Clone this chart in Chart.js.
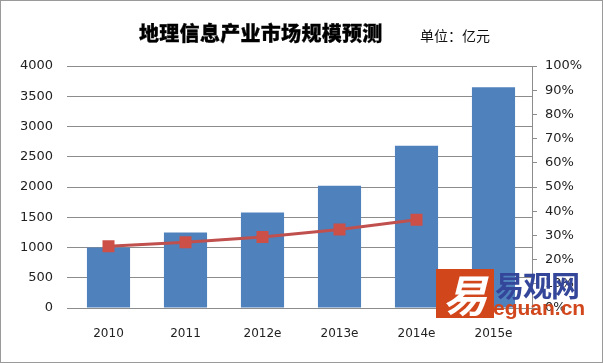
<!DOCTYPE html>
<html>
<head>
<meta charset="utf-8">
<script src="https://cdn.jsdelivr.net/npm/chart.js@4/dist/chart.umd.min.js"></script>
<style>
  html, body { margin: 0; padding: 0; background: #fff; }
  #wrap { position: relative; width: 603px; height: 363px; box-sizing: border-box; border: 1px solid #9a9a9a; overflow: hidden; }
  canvas { position: absolute; left: 0; top: 0; }
  #title { position: absolute; left: 138px; top: 17px; width: 250px; font: 900 20px "Noto Sans CJK SC", sans-serif; color: #000; white-space: nowrap; letter-spacing: 0.3px; -webkit-text-stroke: 0.3px #000; }
  #unit { position: absolute; left: 419px; top: 24px; font: 14px "Noto Sans CJK SC", sans-serif; color: #111; white-space: nowrap; }
  #logoBox { position: absolute; left: 435px; top: 268px; width: 58px; height: 49px; background: #d2461c; color: #fff; font: bold 44px "Noto Sans CJK SC", sans-serif; line-height: 49px; text-align: center; font-style: italic; }
  #logoCn { position: absolute; left: 494px; top: 262px; font: bold 29px "Noto Sans CJK SC", sans-serif; color: #34469a; white-space: nowrap; letter-spacing: -1px; }
  #logoEn { position: absolute; left: 492px; top: 295px; font: bold 21px "Liberation Sans", sans-serif; color: #d2461c; white-space: nowrap; }
</style>
</head>
<body>
<div id="wrap">
  <canvas id="c" width="603" height="363"></canvas>
  <div id="title">地理信息产业市场规模预测</div>
  <div id="unit">单位：亿元</div>
  <div id="logoBox">易</div>
  <div id="logoCn">易观网</div>
  <div id="logoEn">eguan.cn</div>
</div>
<script>
const categories = ["2010", "2011", "2012e", "2013e", "2014e", "2015e"];
const marketSize = [1000, 1250, 1580, 2020, 2680, 3650];
const growthRate = [25.5, 27.2, 29.3, 32.4, 36.5, null];
const leftTicks = [0, 500, 1000, 1500, 2000, 2500, 3000, 3500, 4000];
const rightTicks = [0, 10, 20, 30, 40, 50, 60, 70, 80, 90, 100];

const ctx = document.getElementById('c').getContext('2d');
new Chart(ctx, {
  data: {
    labels: categories,
    datasets: [
      {
        type: 'line',
        data: growthRate,
        yAxisID: 'y1',
        borderColor: '#c0504d',
        backgroundColor: '#c9504a',
        borderWidth: 3,
        pointStyle: 'rect',
        pointRadius: 8.5,
        pointBorderWidth: 0,
        pointBackgroundColor: '#cc4f48',
        tension: 0,
        order: 0
      },
      {
        type: 'bar',
        data: marketSize,
        yAxisID: 'y',
        backgroundColor: '#4f81bd',
        categoryPercentage: 1,
        barPercentage: 0.56,
        order: 1
      }
    ]
  },
  options: {
    responsive: false,
    animation: false,
    devicePixelRatio: 1,
    layout: { padding: { top: 65, left: 0, right: 0, bottom: 0 } },
    plugins: { legend: { display: false }, tooltip: { enabled: false }, title: { display: false } },
    scales: {
      x: {
        grid: { display: false },
        border: { display: false },
        ticks: { color: '#222', font: { family: 'DejaVu Sans', size: 12 }, padding: 11, maxRotation: 0 },
        afterFit: s => { s.height = 56; }
      },
      y: {
        position: 'left',
        min: 0, max: 4000,
        afterBuildTicks: s => { s.ticks = leftTicks.map(v => ({ value: v })); },
        grid: { color: '#8c8c8c', lineWidth: 1, drawTicks: true, tickLength: 3 },
        border: { display: false },
        ticks: { color: '#222', font: { family: 'DejaVu Sans', size: 13 }, padding: 14, callback: v => String(v) },
        afterFit: s => { s.width = 69; }
      },
      y1: {
        position: 'right',
        min: 0, max: 100,
        afterBuildTicks: s => { s.ticks = rightTicks.map(v => ({ value: v })); },
        grid: { drawOnChartArea: false, color: '#8c8c8c', drawTicks: true, tickLength: 5 },
        border: { display: true, color: '#8c8c8c', width: 1 },
        ticks: { color: '#222', font: { family: 'DejaVu Sans', size: 13 }, padding: 8, callback: v => v + '%' },
        afterFit: s => { s.width = 72; }
      }
    }
  }
});
</script>
</body>
</html>
